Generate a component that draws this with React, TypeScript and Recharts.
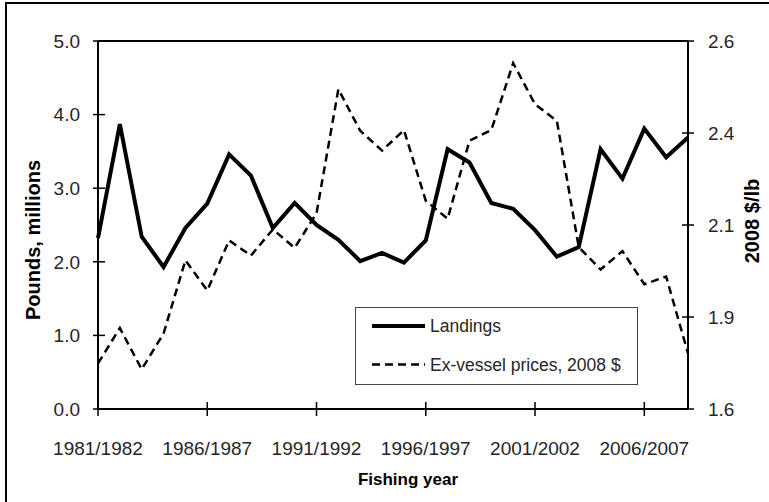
import { LineChart, Line, XAxis, YAxis, Legend, Label, ReferenceLine } from 'recharts';

const years = [
  '1981/1982', '1982/1983', '1983/1984', '1984/1985', '1985/1986', '1986/1987', '1987/1988',
  '1988/1989', '1989/1990', '1990/1991', '1991/1992', '1992/1993', '1993/1994', '1994/1995',
  '1995/1996', '1996/1997', '1997/1998', '1998/1999', '1999/2000', '2000/2001', '2001/2002',
  '2002/2003', '2003/2004', '2004/2005', '2005/2006', '2006/2007', '2007/2008', '2008/2009',
];

// millions of pounds
const landings = [
  2.32, 3.87, 2.34, 1.93, 2.46, 2.79, 3.46, 3.17, 2.46, 2.80, 2.50, 2.30, 2.01, 2.12,
  1.99, 2.29, 3.53, 3.35, 2.80, 2.72, 2.43, 2.07, 2.20, 3.53, 3.13, 3.81, 3.42, 3.69,
];

// 2008 $/lb
const prices = [
  1.724, 1.82, 1.708, 1.805, 2.004, 1.922, 2.058, 2.017, 2.088, 2.038, 2.132, 2.469, 2.356, 2.302,
  2.358, 2.166, 2.117, 2.329, 2.358, 2.54, 2.428, 2.383, 2.04, 1.979, 2.029, 1.939, 1.96, 1.751,
];

const leftTicks = [0, 1, 2, 3, 4, 5];
const rightTicks = [1.6, 1.85, 2.1, 2.35, 2.6];

const data = years.map((year, i) => ({ year, landings: landings[i], price: prices[i] }));

const FONT = '"Liberation Sans", Arial, sans-serif';
const TEXT = '#262626';

// ticks cross the axis line, so draw them ourselves
function LeftTick({ x, y, payload }: any) {
  const ax = x + 18;
  return (
    <g>
      <line x1={ax - 5} x2={ax + 7} y1={y} y2={y} stroke="#000" strokeWidth={1.5} />
      <text x={x} y={y} dy="0.36em" textAnchor="end" fontSize={19} fontFamily={FONT} fill={TEXT}>
        {Number(payload.value).toFixed(1)}
      </text>
    </g>
  );
}

function RightTick({ x, y, payload }: any) {
  const ax = x - 20;
  return (
    <g>
      <line x1={ax - 6} x2={ax + 6} y1={y} y2={y} stroke="#000" strokeWidth={1.5} />
      <text x={x} y={y} dy="0.36em" textAnchor="start" fontSize={19} fontFamily={FONT} fill={TEXT}>
        {Number(payload.value).toFixed(1)}
      </text>
    </g>
  );
}

function BottomTick({ x, y, payload }: any) {
  const ay = y - 33;
  return (
    <g>
      <line x1={x} x2={x} y1={ay - 7} y2={ay + 7} stroke="#000" strokeWidth={1.5} />
      <text x={x} y={y} dy="0.71em" textAnchor="middle" fontSize={19} fontFamily={FONT} fill={TEXT}>
        {payload.value}
      </text>
    </g>
  );
}

const legendOrder = ['landings', 'price'];
const legendStyle: Record<string, { width: number; dash?: string }> = {
  landings: { width: 4 },
  price: { width: 2.5, dash: '8 5' },
};

function LegendBox({ payload }: any) {
  const items = [...(payload || [])].sort(
    (a: any, b: any) => legendOrder.indexOf(a.dataKey) - legendOrder.indexOf(b.dataKey)
  );
  return (
    <svg width={280} height={75} style={{ display: 'block' }}>
      {items.map((item: any, i: number) => {
        const cy = 18 + i * 38.5;
        const st = legendStyle[item.dataKey];
        return (
          <g key={item.dataKey}>
            <line x1={16} x2={69} y1={cy} y2={cy} stroke="#000" strokeWidth={st.width} strokeDasharray={st.dash} />
            <text x={74} y={cy} dy="0.35em" fontSize={17.5} fontFamily={FONT} fill={TEXT}>
              {item.value}
            </text>
          </g>
        );
      })}
    </svg>
  );
}

function VerticalTitle({ viewBox, text, dx, dy }: any) {
  const cx = viewBox.x + dx;
  const cy = viewBox.y + viewBox.height / 2 + dy;
  return (
    <text
      x={cx}
      y={cy}
      transform={`rotate(-90, ${cx}, ${cy})`}
      textAnchor="middle"
      dominantBaseline="central"
      fontSize={20}
      fontWeight="bold"
      fontFamily={FONT}
      fill="#000"
    >
      {text}
    </text>
  );
}

export default function App() {
  return (
    <div
      style={{
        position: 'fixed',
        left: 0,
        top: 0,
        width: 769,
        height: 502,
        overflow: 'hidden',
        background: '#fff',
        fontFamily: FONT,
      }}
    >
      <div
        style={{
          position: 'absolute',
          left: 5,
          top: 2,
          width: 820,
          height: 560,
          borderLeft: '2.5px solid #000',
          borderTop: '2.5px solid #000',
        }}
      />
      <div style={{ position: 'absolute', left: 0, top: 0 }}>
        <LineChart width={769} height={502} data={data} margin={{ top: 41, right: 0, bottom: 0, left: 0 }}>
          <XAxis
            dataKey="year"
            interval={4}
            height={93}
            tickLine={false}
            tickSize={7}
            tickMargin={26}
            tick={<BottomTick />}
            axisLine={{ stroke: '#000', strokeWidth: 2 }}
          >
            <Label
              content={(props: any) => (
                <text
                  x={props.viewBox.x + props.viewBox.width / 2 + 15}
                  y={props.viewBox.y + 76}
                  textAnchor="middle"
                  fontSize={17}
                  fontWeight="bold"
                  fontFamily={FONT}
                  fill="#000"
                >
                  Fishing year
                </text>
              )}
            />
          </XAxis>
          <YAxis
            yAxisId="left"
            domain={[0, 5]}
            ticks={leftTicks}
            width={98}
            tickLine={false}
            tickSize={6}
            tickMargin={12}
            tick={<LeftTick />}
            axisLine={{ stroke: '#000', strokeWidth: 2 }}
          >
            <Label content={(props: any) => <VerticalTitle {...props} text="Pounds, millions" dx={33} dy={15} />} />
          </YAxis>
          <YAxis
            yAxisId="right"
            orientation="right"
            domain={[1.6, 2.6]}
            ticks={rightTicks}
            width={81}
            tickLine={false}
            tickSize={6}
            tickMargin={14}
            tick={<RightTick />}
            axisLine={{ stroke: '#000', strokeWidth: 2 }}
          >
            <Label content={(props: any) => <VerticalTitle {...props} text="2008 $/lb" dx={64} dy={-4} />} />
          </YAxis>
          <ReferenceLine yAxisId="left" y={5} stroke="#000" strokeWidth={2} />
          <Legend
            layout="horizontal"
            align="center"
            verticalAlign="middle"
            content={<LegendBox />}
            wrapperStyle={{
              left: 355,
              top: 307,
              width: 283,
              height: 78,
              border: '1.5px solid #444',
              boxSizing: 'border-box',
              background: '#fff',
            }}
          />
          <Line
            yAxisId="left"
            type="linear"
            dataKey="landings"
            name="Landings"
            stroke="#000"
            strokeWidth={4}
            strokeLinejoin="miter"
            dot={false}
            isAnimationActive={false}
          />
          <Line
            yAxisId="right"
            type="linear"
            dataKey="price"
            name="Ex-vessel prices, 2008 $"
            stroke="#000"
            strokeWidth={2.5}
            strokeDasharray="8 5"
            strokeLinejoin="miter"
            dot={false}
            isAnimationActive={false}
          />
        </LineChart>
      </div>
    </div>
  );
}
